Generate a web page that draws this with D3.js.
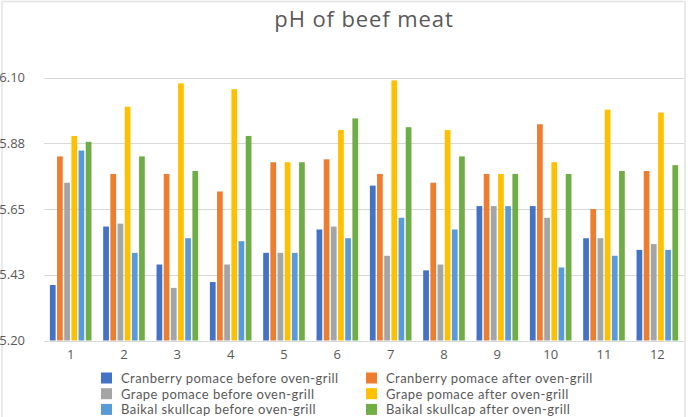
<!DOCTYPE html>
<html>
<head>
<meta charset="utf-8">
<script src="https://cdn.jsdelivr.net/npm/d3@7"></script>
<style>
    body { margin: 0; background: #fff; }
    text { font-family: "Open Sans", "Noto Sans", sans-serif; fill: #595959; }
</style>
</head>
<body>
<div id="chart"></div>
<script>
const samples = ["1", "2", "3", "4", "5", "6", "7", "8", "9", "10", "11", "12"];
const seriesNames = [
    "Cranberry pomace before oven-grill",
    "Cranberry pomace after oven-grill",
    "Grape pomace before oven-grill",
    "Grape pomace after oven-grill",
    "Baikal skullcap before oven-grill",
    "Baikal skullcap after oven-grill"
];
const seriesColors = ["#4472C4", "#ED7D31", "#A5A5A5", "#FFC000", "#5B9BD5", "#70AD47"];

const cranberryBefore = [5.39, 5.59, 5.46, 5.40, 5.50, 5.58, 5.73, 5.44, 5.66, 5.66, 5.55, 5.51];
const cranberryAfter  = [5.83, 5.77, 5.77, 5.71, 5.81, 5.82, 5.77, 5.74, 5.77, 5.94, 5.65, 5.78];
const grapeBefore     = [5.74, 5.60, 5.38, 5.46, 5.50, 5.59, 5.49, 5.46, 5.66, 5.62, 5.55, 5.53];
const grapeAfter      = [5.90, 6.00, 6.08, 6.06, 5.81, 5.92, 6.09, 5.92, 5.77, 5.81, 5.99, 5.98];
const skullcapBefore  = [5.85, 5.50, 5.55, 5.54, 5.50, 5.55, 5.62, 5.58, 5.66, 5.45, 5.49, 5.51];
const skullcapAfter   = [5.88, 5.83, 5.78, 5.90, 5.81, 5.96, 5.93, 5.83, 5.77, 5.77, 5.78, 5.80];

const yTicks = [5.20, 5.425, 5.65, 5.875, 6.10];

const drawChart = function(){
    const width = 688, height = 417;
    const seriesValues = [cranberryBefore, cranberryAfter, grapeBefore, grapeAfter, skullcapBefore, skullcapAfter];

    const svg = d3.select("#chart")
        .append("svg")
        .attr("width", width)
        .attr("height", height);

    // frame: top, left and right edges only
    svg.append("path")
        .attr("d", "M2,417V1.5H685V417")
        .attr("fill", "none")
        .attr("stroke", "#e3e3e3")
        .attr("stroke-width", 1.5);

    svg.append("text")
        .attr("x", 364)
        .attr("y", 27)
        .attr("text-anchor", "middle")
        .style("font-size", "22px")
        .style("letter-spacing", "0.9px")
        .text("pH of beef meat");

    const xScale = d3.scaleBand()
        .domain(samples)
        .range([44, 684])
        .paddingInner(0.22)
        .paddingOuter(0.11);

    const xSeries = d3.scaleBand()
        .domain(d3.range(seriesNames.length))
        .range([0, xScale.bandwidth()])
        .paddingInner(0.2);

    const yScale = d3.scaleLinear()
        .domain([5.20, 6.10])
        .range([340.5, 77.5]);

    svg.append("g")
        .selectAll("line")
        .data(yTicks)
        .enter()
        .append("line")
        .attr("x1", 44)
        .attr("x2", 684)
        .attr("y1", d => Math.round(yScale(d)) + 0.5)
        .attr("y2", d => Math.round(yScale(d)) + 0.5)
        .attr("stroke", "#d9d9d9");

    svg.append("g")
        .selectAll("text")
        .data(yTicks)
        .enter()
        .append("text")
        .attr("x", 25)
        .attr("y", d => yScale(d))
        .attr("dy", "0.35em")
        .attr("text-anchor", "end")
        .style("font-size", "13px")
        .text(d => d3.format(".2f")(d + 1e-9));

    const groups = svg.append("g")
        .selectAll("g")
        .data(samples)
        .enter()
        .append("g")
        .attr("transform", d => `translate(${xScale(d)},0)`);

    groups.selectAll("rect")
        .data((d, i) => seriesValues.map((vals, s) => ({ s: s, v: vals[i] })))
        .enter()
        .append("rect")
        .attr("x", d => xSeries(d.s))
        .attr("y", d => yScale(d.v))
        .attr("width", xSeries.bandwidth())
        .attr("height", d => yScale(5.20) - yScale(d.v))
        .attr("fill", d => seriesColors[d.s]);

    const xAxis = svg.append("g")
        .attr("transform", `translate(0, ${Math.round(yScale(5.20)) + 0.5})`)
        .call(d3.axisBottom(xScale).tickSize(0).tickPadding(8));
    xAxis.select(".domain").attr("stroke", "#d9d9d9").attr("d", "M44,0H684");
    xAxis.selectAll("text")
        .style("font-size", "13px")
        .attr("fill", "#595959")
        .style("font-family", "'Open Sans', sans-serif");

    const legend = svg.append("g");
    const legendItems = legend.selectAll("g")
        .data(seriesNames)
        .enter()
        .append("g")
        .attr("transform", (d, i) => `translate(${i % 2 === 0 ? 101 : 366}, ${372.5 + Math.floor(i / 2) * 15.7})`);

    legendItems.append("rect")
        .attr("width", 11)
        .attr("height", 11)
        .attr("fill", (d, i) => seriesColors[i]);

    legendItems.append("text")
        .attr("x", 20)
        .attr("y", 6)
        .attr("dy", "0.35em")
        .style("font-family", "Lato, sans-serif")
        .style("font-size", "13px")
        .style("letter-spacing", "0.45px")
        .text(d => d);
}

window.onload = function(){
    drawChart();
}
</script>
</body>
</html>
